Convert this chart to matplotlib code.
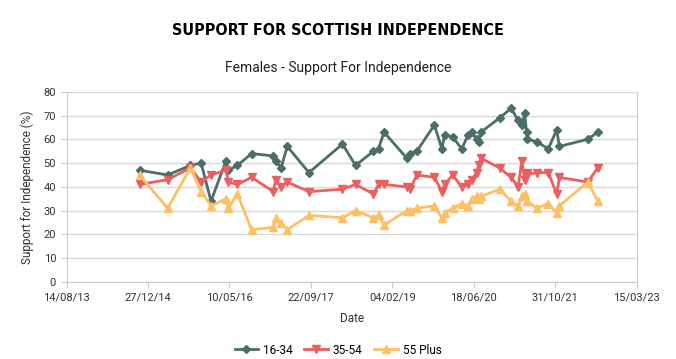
import pandas as pd
import matplotlib.pyplot as plt
import matplotlib.dates as mdates

plt.rcParams['font.family'] = ['Roboto', 'DejaVu Sans']

# Poll dates and female support for independence by age group
dates = ['2014-11-05', '2015-04-26', '2015-09-14', '2015-11-18', '2016-01-18',
         '2016-04-19', '2016-05-04', '2016-06-28', '2016-09-23', '2017-02-04',
         '2017-02-18', '2017-03-23', '2017-04-30', '2017-09-10', '2018-04-04',
         '2018-06-23', '2018-10-11', '2018-11-11', '2018-12-15', '2019-05-04',
         '2019-05-24', '2019-07-04', '2019-10-20', '2019-12-05', '2019-12-22',
         '2020-02-09', '2020-04-05', '2020-05-15', '2020-06-07', '2020-07-05',
         '2020-07-17', '2020-08-01', '2020-11-23', '2021-02-02', '2021-03-17',
         '2021-04-09', '2021-04-26', '2021-05-08', '2021-05-13', '2021-07-09',
         '2021-09-18', '2021-11-09', '2021-11-25', '2022-05-18', '2022-07-19']

age_16_34 = [47, 45, 49, 50, 34, 51, 47, 49, 54, 53,
             51, 48, 57, 46, 58, 49, 55, 56, 63, 52,
             54, 55, 66, 56, 62, 61, 56, 62, 63, 60,
             59, 63, 69, 73, 68, 66, 71, 63, 60, 59,
             56, 64, 57, 60, 63]

age_35_54 = [41, 43, 48, 42, 45, 47, 42, 41, 44, 38,
             43, 40, 42, 38, 39, 41, 37, 41, 41, 40,
             39, 45, 44, 38, 41, 45, 40, 41, 43, 46,
             49, 52, 48, 44, 40, 51, 43, 46, 45, 46,
             46, 37, 44, 42, 48]

age_55_plus = [45, 31, 48, 38, 32, 35, 31, 37, 22, 23,
               27, 25, 22, 28, 27, 30, 27, 28, 24, 30,
               30, 31, 32, 27, 29, 31, 33, 32, 35, 36,
               35, 36, 39, 34, 32, 36, 37, 34, 34, 31,
               33, 29, 32, 42, 34]

df = pd.DataFrame({'16-34': age_16_34, '35-54': age_35_54, '55 Plus': age_55_plus},
                  index=pd.to_datetime(dates))

tick_dates = pd.to_datetime(['2013-08-14', '2014-12-27', '2016-05-10', '2017-09-22',
                             '2019-02-04', '2020-06-18', '2021-10-31', '2023-03-15'])

fig = plt.figure(figsize=(6.76, 3.59), dpi=100)
ax = fig.add_axes([0.0984, 0.2145, 0.8435, 0.5300])

ax.plot(df.index, df['16-34'], color='#4b6e68', marker='D', markersize=4, linewidth=2, label='16-34')
ax.plot(df.index, df['35-54'], color='#e9605f', marker='v', markersize=5.5, linewidth=2, label='35-54')
ax.plot(df.index, df['55 Plus'], color='#fdc064', marker='^', markersize=5.5, linewidth=2, label='55 Plus')

ax.set_xlim(tick_dates[0], tick_dates[-1])
ax.set_ylim(0, 80)
ax.set_yticks(range(0, 81, 10))
ax.set_xticks(tick_dates)
ax.xaxis.set_major_formatter(mdates.DateFormatter('%d/%m/%y'))

ax.grid(axis='y', color='#d9d9d9', linewidth=1)
ax.set_axisbelow(True)
for side in ['left', 'bottom', 'right']:
    ax.spines[side].set_color('#cccccc')
ax.spines['top'].set_visible(False)
ax.tick_params(colors='#cccccc', labelcolor='#333333', labelsize=8, length=4)

ax.set_xlabel('Date', fontsize=8.5, color='#333333', labelpad=7)
ax.set_ylabel('Support for Independence (%)', fontsize=8.5, color='#333333', labelpad=7)

fig.text(0.5, 0.915, 'SUPPORT FOR SCOTTISH INDEPENDENCE', ha='center', va='center',
         fontsize=11.5, fontweight='bold', fontstretch='condensed', family='DejaVu Sans')
fig.text(0.5, 0.81, 'Females - Support For Independence', ha='center', va='center',
         fontsize=10, color='#222222')

fig.legend(loc='center', bbox_to_anchor=(0.5, 0.025), ncol=3, frameon=False,
           fontsize=8.5, handlelength=2, columnspacing=1, handletextpad=0.4)

plt.savefig('out.png', dpi=100)
